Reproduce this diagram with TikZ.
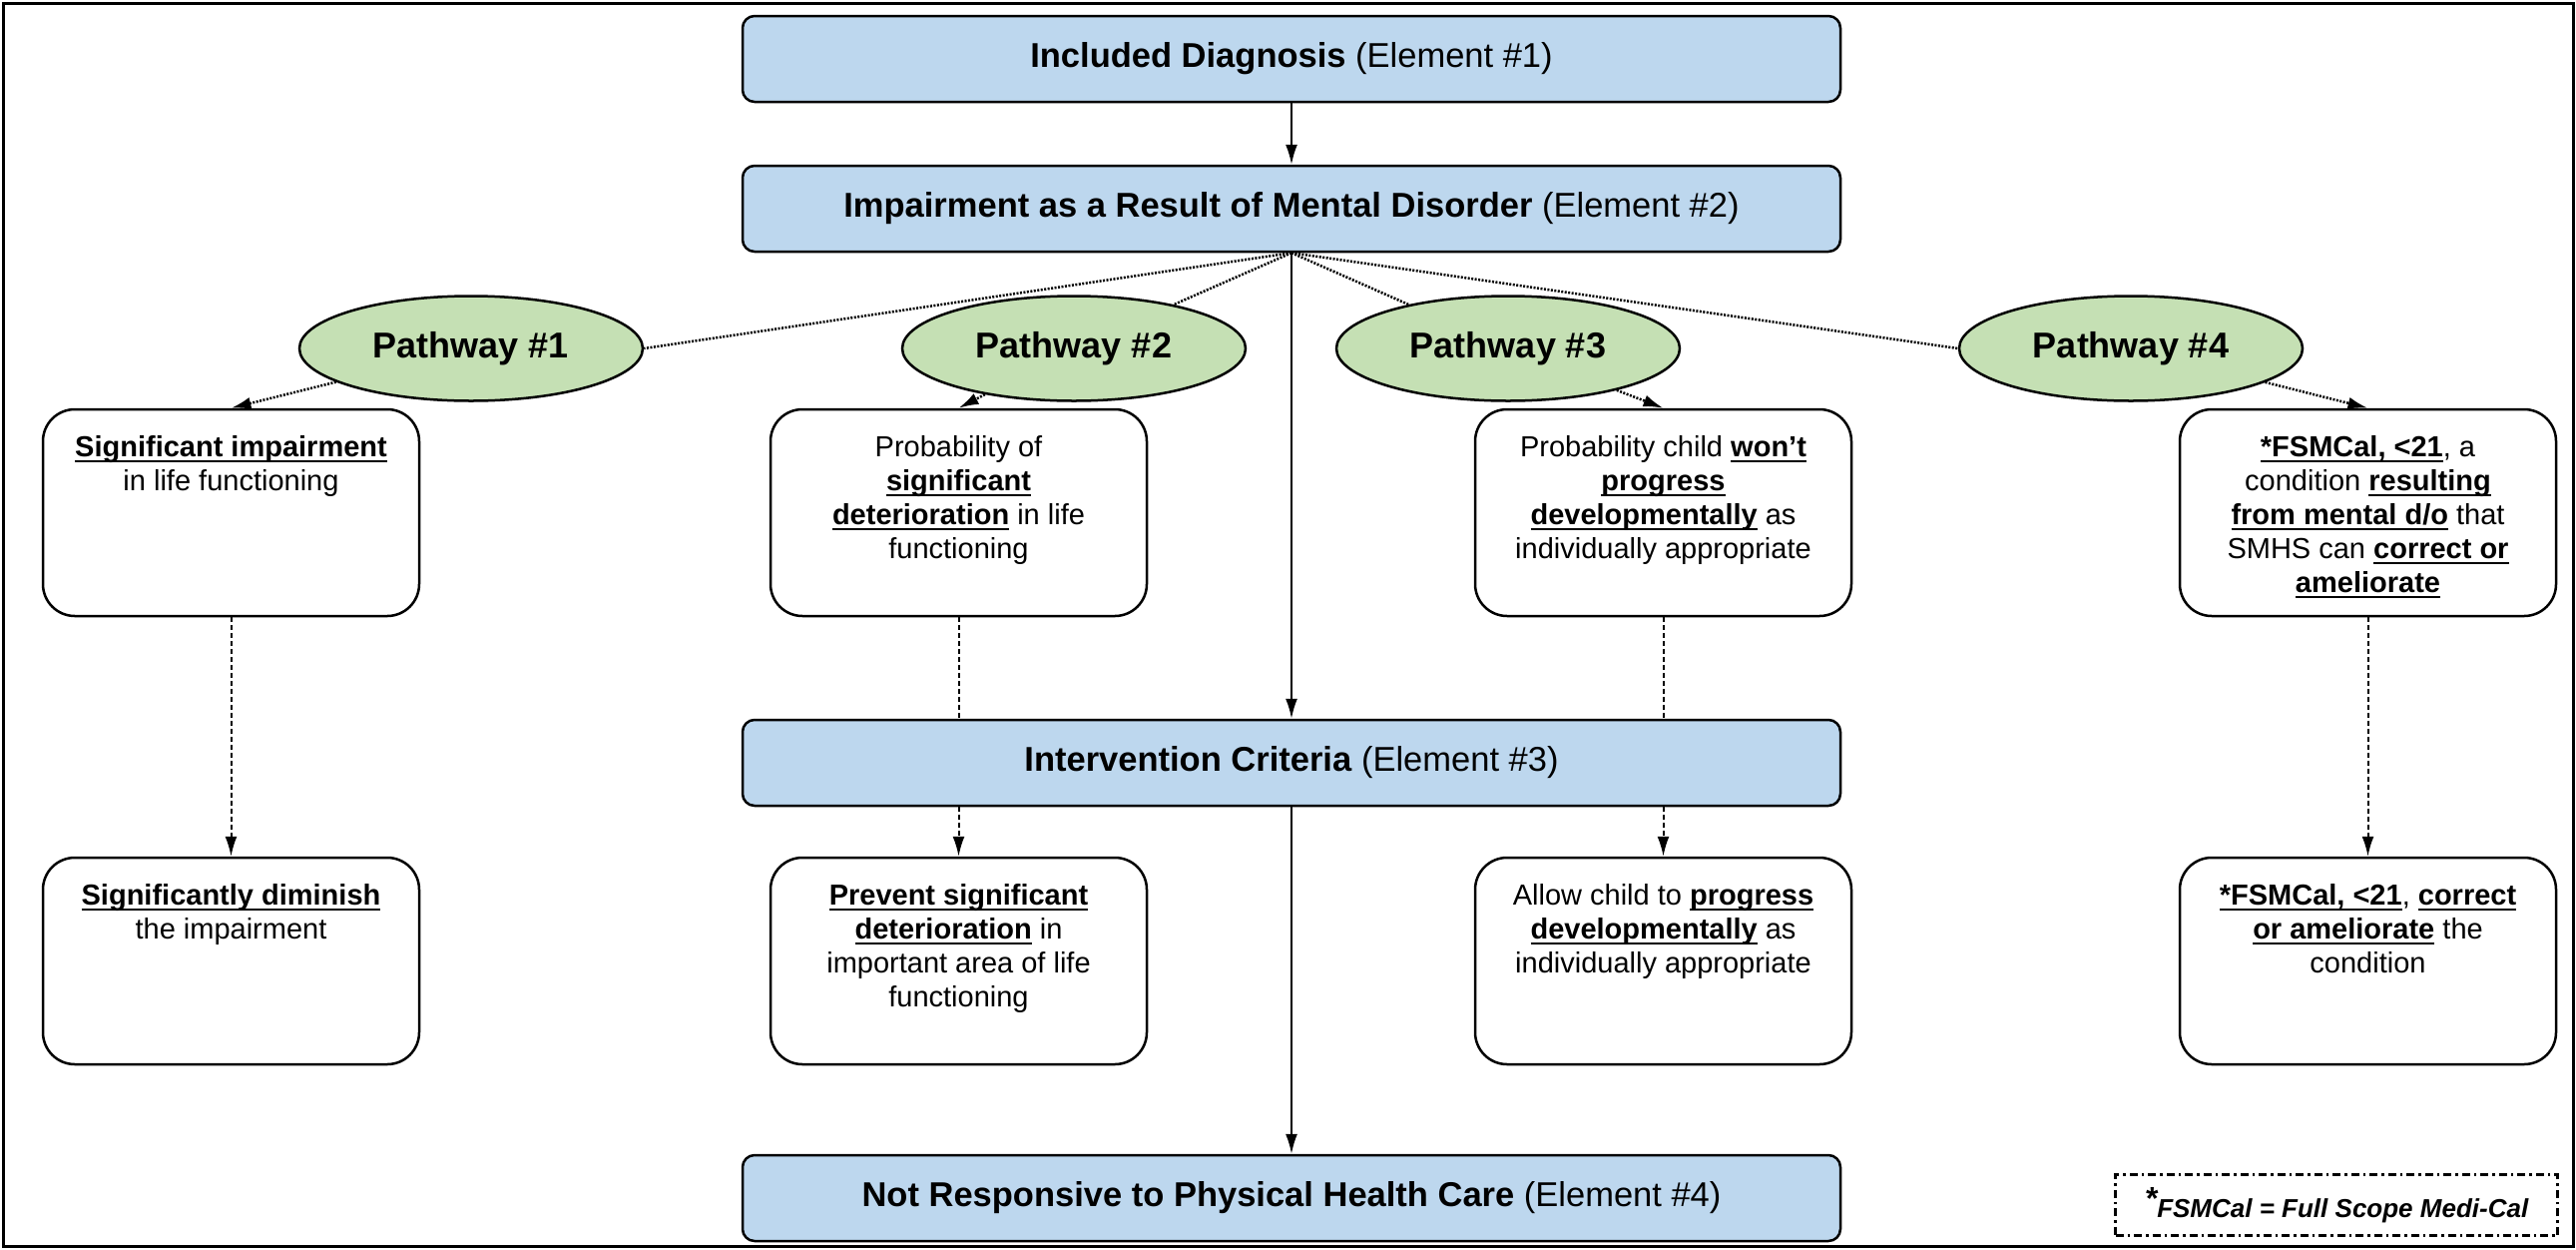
\documentclass[tikz,border=0pt]{standalone}
\usepackage{fontspec}
\setmainfont{Liberation Sans}
\usetikzlibrary{shapes.geometric,arrows.meta}
\definecolor{elblue}{HTML}{BDD7EE}
\definecolor{pwgreen}{HTML}{C5E0B4}
\newcommand\ulb[1]{\leavevmode\setbox0=\hbox{\bfseries #1}\rlap{\rule[-0.22em]{\wd0}{0.075em}}\box0\relax}
\newcommand\boxtext[1]{\parbox[c][187pt][t]{357pt}{\centering\rule{0pt}{37pt}#1}}
\begin{document}
\begin{tikzpicture}[x=1pt,y=-1pt,
  elem/.style={draw, line width=2.5pt, rounded corners=12pt, fill=elblue, minimum width=1100pt, minimum height=86pt, inner sep=0pt, font=\fontsize{34.5}{40}\selectfont},
  pathw/.style={ellipse, draw, line width=2.5pt, fill=pwgreen, minimum width=344pt, minimum height=105pt, inner sep=0pt, font=\fontsize{36}{40}\selectfont\bfseries},
  crit/.style={draw, line width=2.5pt, rounded corners=32pt, fill=white, inner sep=10pt, font=\fontsize{29}{34}\selectfont},
  legendbox/.style={draw, line width=2.2pt, dash pattern=on 8pt off 4pt on 2.5pt off 4pt, fill=white, minimum width=443pt, minimum height=61pt, inner sep=0pt, font=\fontsize{26}{30}\selectfont\bfseries\itshape},
  solidarrow/.style={line width=2pt, -{Latex[length=20pt,width=12pt]}},
  dotline/.style={line width=2.5pt, dash pattern=on 2pt off 1.5pt},
  dotarrow/.style={line width=2.5pt, dash pattern=on 2pt off 1.5pt, -{Latex[length=20pt,width=12pt]}},
  vdash/.style={line width=2pt, dash pattern=on 5pt off 3pt},
  vdasharrow/.style={line width=2pt, dash pattern=on 5pt off 3pt, -{Latex[length=20pt,width=12pt]}}
]
\useasboundingbox (0,0) rectangle (2581,1251);
\draw[line width=3pt] (3,3) rectangle (2578,1248);

\node[elem] (e1) at (1294,59) {\textbf{Included Diagnosis} (Element \#1)};
\node[elem] (e2) at (1294,209) {\textbf{Impairment as a Result of Mental Disorder} (Element \#2)};
\node[elem] (e3) at (1294,764) {\textbf{Intervention Criteria} (Element \#3)};
\node[elem] (e4) at (1294,1200) {\textbf{Not Responsive to Physical Health Care} (Element \#4)};

\node[pathw] (p1) at (472,349) {Pathway \#1};
\node[pathw] (p2) at (1076,349) {Pathway \#2};
\node[pathw] (p3) at (1511,349) {Pathway \#3};
\node[pathw] (p4) at (2135,349) {Pathway \#4};

\node[crit] (a1) at (231.5,513.5) {\boxtext{\ulb{Significant impairment}\\ in life functioning}};
\node[crit] (a2) at (960.5,513.5) {\boxtext{Probability of\\ \ulb{significant}\\ \ulb{deterioration} in life\\ functioning}};
\node[crit] (a3) at (1666.5,513.5) {\boxtext{Probability child \ulb{won’t}\\ \ulb{progress}\\ \ulb{developmentally} as\\ individually appropriate}};
\node[crit] (a4) at (2372.5,513.5) {\boxtext{\ulb{*FSMCal, <21}, a\\ condition \ulb{resulting}\\ \ulb{from mental d/o} that\\ SMHS can \ulb{correct or}\\ \ulb{ameliorate}}};

\node[crit] (b1) at (231.5,962.5) {\boxtext{\ulb{Significantly diminish}\\ the impairment}};
\node[crit] (b2) at (960.5,962.5) {\boxtext{\ulb{Prevent significant}\\ \ulb{deterioration} in\\ important area of life\\ functioning}};
\node[crit] (b3) at (1666.5,962.5) {\boxtext{Allow child to \ulb{progress}\\ \ulb{developmentally} as\\ individually appropriate}};
\node[crit] (b4) at (2372.5,962.5) {\boxtext{\ulb{*FSMCal, <21}, \ulb{correct}\\ \ulb{or ameliorate} the\\ condition}};

\node[legendbox] (lg) at (2341,1207) {\raisebox{0.3em}{\fontsize{32}{32}\selectfont *}FSMCal = Full Scope Medi-Cal};

\draw[solidarrow] (e1) -- (e2);
\draw[solidarrow] (e2) -- (e3);
\draw[solidarrow] (e3) -- (e4);

\draw[dotline] (e2.south) -- (p1.east);
\draw[dotline] (e2.south) -- (p2);
\draw[dotline] (e2.south) -- (p3);
\draw[dotline] (e2.south) -- (p4.west);

\draw[dotarrow] (p1) -- (a1.north);
\draw[dotarrow] (p2) -- (a2.north);
\draw[dotarrow] (p3) -- (a3.north);
\draw[dotarrow] (p4) -- (a4.north);

\draw[vdasharrow] (a1) -- (b1);
\draw[vdash] (a2) -- (a2 |- e3.north);
\draw[vdasharrow] (b2 |- e3.south) -- (b2);
\draw[vdash] (a3) -- (a3 |- e3.north);
\draw[vdasharrow] (b3 |- e3.south) -- (b3);
\draw[vdasharrow] (a4) -- (b4);
\end{tikzpicture}
\end{document}
